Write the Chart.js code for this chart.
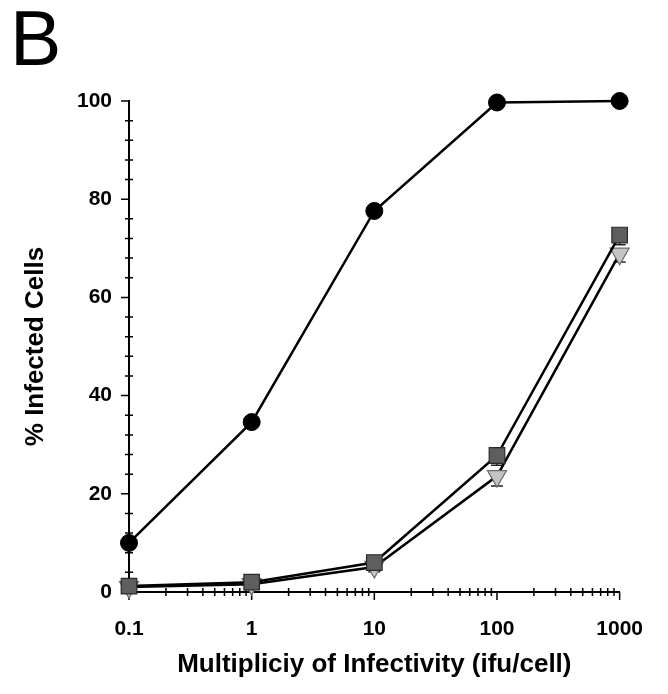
<!DOCTYPE html>
<html>
<head>
<meta charset="utf-8">
<script src="https://cdn.jsdelivr.net/npm/chart.js@4"></script>
<style>
  html, body { margin: 0; padding: 0; background: #fff; }
</style>
</head>
<body>
<canvas id="chart" width="668" height="694"></canvas>
<script>
// values
const moi = [0.1, 1, 10, 100, 1000];
const circles = [10, 34.6, 77.6, 99.7, 100];
const squares = [1.2, 2, 6, 27.8, 72.7];
const squaresErr = [0, 0, 0.5, 2, 2];
const triangles = [1, 1.6, 5.1, 23.6, 68.9];
const trianglesErr = [0, 0, 1, 2, 1.7];
const xTicks = [0.1, 1, 10, 100, 1000];
const yTicks = [0, 20, 40, 60, 80, 100];

const FONT = '"Liberation Sans", Arial, sans-serif';

// tick marks + error bars, drawn under the markers
const axisTicks = {
  id: 'axisTicks',
  beforeDatasetsDraw(chart) {
    const { ctx, scales: { x, y }, chartArea: a } = chart;
    ctx.save();
    ctx.strokeStyle = '#000';
    ctx.lineWidth = 1.5;
    ctx.beginPath();
    yTicks.forEach(v => {
      const py = y.getPixelForValue(v);
      ctx.moveTo(a.left - 8, py); ctx.lineTo(a.left, py);
    });
    for (let v = 4; v < 100; v += 4) {
      if (v % 20 === 0) continue;
      const py = y.getPixelForValue(v);
      ctx.moveTo(a.left - 4, py); ctx.lineTo(a.left + 4, py);
    }
    xTicks.forEach(v => {
      const px = x.getPixelForValue(v);
      ctx.moveTo(px, a.bottom); ctx.lineTo(px, a.bottom + 8);
    });
    for (let d = 0.1; d < 999; d *= 10) {
      for (let k = 2; k <= 9; k++) {
        const px = x.getPixelForValue(d * k);
        ctx.moveTo(px, a.bottom - 4); ctx.lineTo(px, a.bottom + 4);
      }
    }
    ctx.stroke();

    // minus error bars
    [[1, squares, squaresErr], [2, triangles, trianglesErr]].forEach(([i, vals, errs]) => {
      const meta = chart.getDatasetMeta(i);
      ctx.beginPath();
      vals.forEach((v, j) => {
        if (!errs[j]) return;
        const px = meta.data[j].x;
        const py0 = y.getPixelForValue(v);
        const py1 = y.getPixelForValue(v - errs[j]);
        ctx.moveTo(px, py0); ctx.lineTo(px, py1);
        ctx.moveTo(px - 6, py1); ctx.lineTo(px + 6, py1);
      });
      ctx.strokeStyle = '#222';
      ctx.lineWidth = 1.5;
      ctx.stroke();
    });
    ctx.restore();
  },
  afterDraw(chart) {
    const ctx = chart.ctx;
    ctx.save();
    ctx.fillStyle = '#000';
    ctx.font = '77px ' + FONT;
    ctx.textBaseline = 'alphabetic';
    ctx.textAlign = 'left';
    ctx.fillText('B', 10, 65);
    ctx.restore();
  }
};

new Chart(document.getElementById('chart'), {
  type: 'line',
  data: {
    datasets: [
      {
        data: moi.map((m, i) => ({ x: m, y: circles[i] })),
        borderColor: '#000', borderWidth: 2.5,
        pointStyle: 'circle', pointRadius: 8.5,
        pointBackgroundColor: '#000', pointBorderColor: '#000', pointBorderWidth: 1,
        clip: false
      },
      {
        data: moi.map((m, i) => ({ x: m, y: squares[i] })),
        borderColor: '#000', borderWidth: 2.5,
        pointStyle: 'rect', pointRadius: 11,
        pointBackgroundColor: '#5e5e5e', pointBorderColor: '#2a2a2a', pointBorderWidth: 1.2,
        clip: false
      },
      {
        data: moi.map((m, i) => ({ x: m, y: triangles[i] })),
        borderColor: '#000', borderWidth: 2.5,
        pointStyle: 'triangle', pointRotation: 180, pointRadius: 11,
        pointBackgroundColor: '#c4c4c4', pointBorderColor: '#6a6a6a', pointBorderWidth: 1.2,
        clip: false
      }
    ]
  },
  options: {
    responsive: false,
    animation: false,
    events: [],
    layout: { padding: { left: 0, right: 45, top: 101, bottom: 0 } },
    plugins: { legend: { display: false }, tooltip: { enabled: false } },
    scales: {
      x: {
        type: 'logarithmic', min: 0.1, max: 1000,
        afterBuildTicks: s => { s.ticks = xTicks.map(v => ({ value: v })); },
        afterFit: s => { s.height = 102; },
        grid: { display: false, drawTicks: false },
        border: { display: true, color: '#000', width: 2 },
        ticks: {
          color: '#000', padding: 25, maxRotation: 0, autoSkip: false,
          font: { family: FONT, size: 21, weight: 'bold' },
          callback: v => String(v)
        },
        title: {
          display: true, text: 'Multipliciy of Infectivity (ifu/cell)', color: '#000',
          font: { family: FONT, size: 26, weight: 'bold' },
          padding: { top: 0, bottom: 14 }
        }
      },
      y: {
        min: 0, max: 100,
        afterBuildTicks: s => { s.ticks = yTicks.map(v => ({ value: v })); },
        afterFit: s => { s.width = 129; },
        grid: { display: false, drawTicks: false },
        border: { display: true, color: '#000', width: 2 },
        ticks: {
          color: '#000', padding: 17,
          font: { family: FONT, size: 21, weight: 'bold' }
        },
        title: {
          display: true, text: '% Infected Cells', color: '#000',
          font: { family: FONT, size: 26, weight: 'bold' },
          padding: { top: 20, bottom: 0 }
        }
      }
    }
  },
  plugins: [axisTicks]
});
</script>
</body>
</html>
